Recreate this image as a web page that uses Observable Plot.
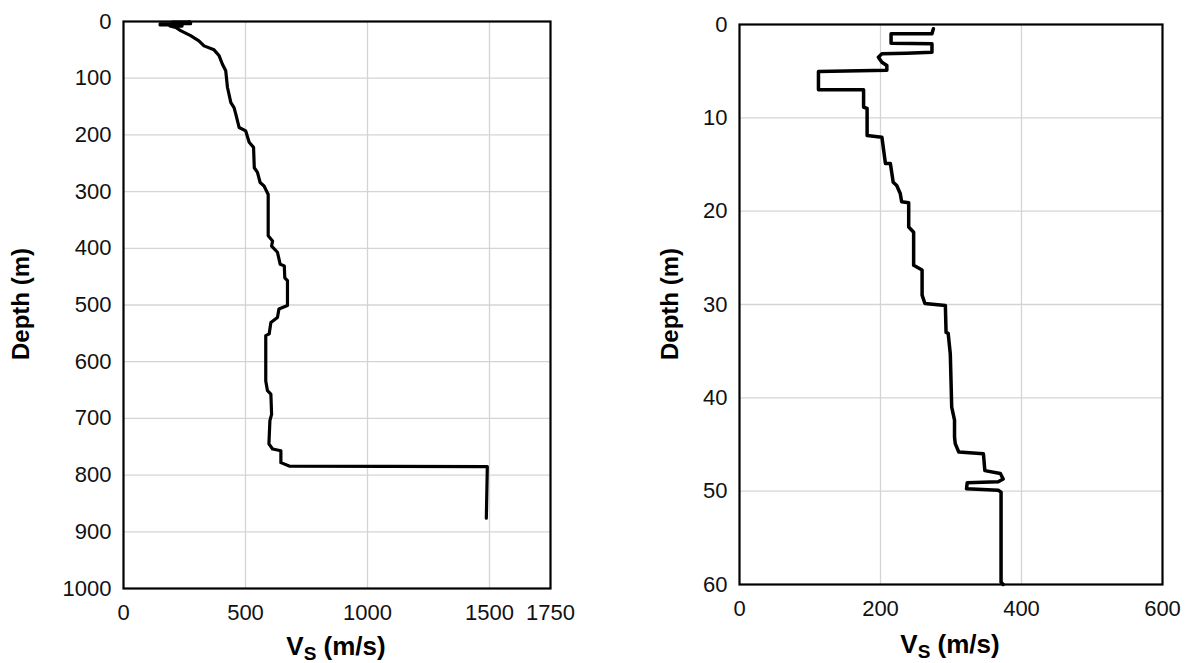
<!DOCTYPE html>
<html>
<head>
<meta charset="utf-8">
<script src="https://cdn.jsdelivr.net/npm/d3@7"></script>
<script src="https://cdn.jsdelivr.net/npm/@observablehq/plot@0.6"></script>
<style>
  html, body { margin: 0; padding: 0; background: #fff; }
  #wrap { position: relative; width: 1187px; height: 663px; background: #fff; overflow: hidden; }
  #wrap svg { position: absolute; top: 0; }
</style>
</head>
<body>
<div id="wrap"></div>
<script>
// ---- Left panel: full profile (depth in m, Vs in m/s)
const depthL = [0, 1, 1, 2.5, 2.5, 4, 4, 6, 6, 8, 8, 10.6, 16, 25, 34, 43, 50, 60.5, 75, 87,
  116, 143, 152, 163, 187, 193, 213, 222, 258, 266, 284, 290, 305, 378, 387, 396, 407, 428, 431, 452,
  457, 501, 507, 522, 531, 551, 554, 634, 651, 657, 693, 704, 745, 754, 757, 778, 784, 785, 787, 876];
const vsL = [270, 270, 200, 200, 275, 275, 150, 150, 240, 240, 190, 214, 234, 275, 309, 330, 371, 392, 405, 419,
  426, 440, 453, 460, 474, 501, 515, 533, 536, 549, 560, 576, 593, 593, 611, 607, 631, 642, 659, 661,
  672, 672, 637, 631, 604, 597, 583, 583, 590, 604, 607, 600, 596, 611, 645, 645, 679, 1491, 1491, 1487];

// ---- Right panel: shallow profile (top 60 m)
const depthR = [0.46, 1.0, 1.0, 2.0, 2.07, 2.96, 3.07, 3.14, 3.5, 4.04, 4.4, 4.9, 5.04, 7.0, 7.0, 8.86, 9.0, 11.9, 12.07, 14.9,
  14.9, 16.9, 17.25, 18.1, 19.0, 19.1, 21.7, 22.25, 25.8, 26.3, 29.0, 29.9, 30.1, 33.0, 33.1, 35.3, 38.1, 41.0, 42.4, 44.2,
  44.9, 45.8, 46.0, 47.8, 48.1, 48.7, 49.0, 49.1, 49.75, 49.9, 50.1, 59.75, 60];
const vsR = [275, 273, 215, 215, 273, 273, 237, 202, 197, 202, 209, 209, 112, 112, 176, 176, 181, 181, 202, 207,
  214, 218, 223, 228, 230, 240, 240, 247, 247, 259, 259, 263, 292, 293, 296, 299, 300, 301, 305, 305,
  306, 311, 346, 348, 370, 374, 367, 323, 322, 367, 371, 371, 374];

// ---- Axis ticks
const xTicksL = [0, 500, 1000, 1500, 1750];
const xGridL = [500, 1000, 1500];
const yTicksL = [0, 100, 200, 300, 400, 500, 600, 700, 800, 900, 1000];
const yGridL = [100, 200, 300, 400, 500, 600, 700, 800, 900];
const xTicksR = [0, 200, 400, 600];
const xGridR = [200, 400];
const yTicksR = [0, 10, 20, 30, 40, 50, 60];
const yGridR = [10, 20, 30, 40, 50];

const yLabel = "Depth (m)";

const dataL = depthL.map((d, i) => ({depth: d, vs: vsL[i]}));
const dataR = depthR.map((d, i) => ({depth: d, vs: vsR[i]}));

const FONT = "'Liberation Sans', Arial, sans-serif";

function panel({data, width, height, mL, mR, mT, mB, xDomain, xTicks, xGrid, yDomain, yTicks, yGrid, lineWidth}) {
  return Plot.plot({
    width, height,
    marginLeft: mL, marginRight: mR, marginTop: mT, marginBottom: mB,
    style: {fontSize: "22px", fontFamily: FONT, color: "#111", background: "transparent", overflow: "visible"},
    x: {domain: xDomain},
    y: {domain: yDomain, reverse: true},
    marks: [
      Plot.gridX(xGrid, {stroke: "#d4d4d4", strokeOpacity: 1, strokeWidth: 1.3}),
      Plot.gridY(yGrid, {stroke: "#d4d4d4", strokeOpacity: 1, strokeWidth: 1.3}),
      Plot.axisX({ticks: xTicks, tickSize: 0, tickPadding: 16, label: null, tickFormat: d => String(d)}),
      Plot.axisY({ticks: yTicks, tickSize: 0, tickPadding: 12, label: null, tickFormat: d => String(d)}),
      Plot.line(data, {x: "vs", y: "depth", stroke: "#000", strokeWidth: lineWidth, strokeLinejoin: "round", strokeLinecap: "round", curve: "linear"}),
      Plot.frame({stroke: "#000", strokeWidth: 2.2})
    ]
  });
}

function addTitles(svg, yTitleX, yTitleY, xTitleX, xTitleY) {
  const s = d3.select(svg);
  s.append("text")
    .attr("transform", `translate(${yTitleX},${yTitleY}) rotate(-90)`)
    .attr("text-anchor", "middle")
    .attr("dy", "0.35em")
    .attr("font-family", FONT)
    .attr("font-weight", "bold")
    .attr("font-size", 24)
    .attr("fill", "#000")
    .text(yLabel);
  const t = s.append("text")
    .attr("x", xTitleX).attr("y", xTitleY)
    .attr("text-anchor", "middle")
    .attr("font-family", FONT)
    .attr("font-weight", "bold")
    .attr("font-size", 26)
    .attr("fill", "#000");
  t.append("tspan").text("V");
  t.append("tspan").attr("font-size", 19).attr("dy", 5).text("S");
  t.append("tspan").attr("dy", -5).text(" (m/s)");
}

const wrap = document.getElementById("wrap");

// Left panel: plot area x 123..550, y 21..588
const left = panel({
  data: dataL, width: 600, height: 663, mL: 123, mR: 50, mT: 21, mB: 75,
  xDomain: [0, 1750], xTicks: xTicksL, xGrid: xGridL,
  yDomain: [0, 1000], yTicks: yTicksL, yGrid: yGridL, lineWidth: 3.2
});
left.style.left = "0px";
wrap.appendChild(left);
addTitles(left, 21, 304, 336, 655);

// Right panel: plot area x 739..1162, y 24..584
const right = panel({
  data: dataR, width: 587, height: 663, mL: 139, mR: 25, mT: 24, mB: 79,
  xDomain: [0, 600], xTicks: xTicksR, xGrid: xGridR,
  yDomain: [0, 60], yTicks: yTicksR, yGrid: yGridR, lineWidth: 3.5
});
right.style.left = "600px";
wrap.appendChild(right);
addTitles(right, 70, 304, 350, 653);
</script>
</body>
</html>
